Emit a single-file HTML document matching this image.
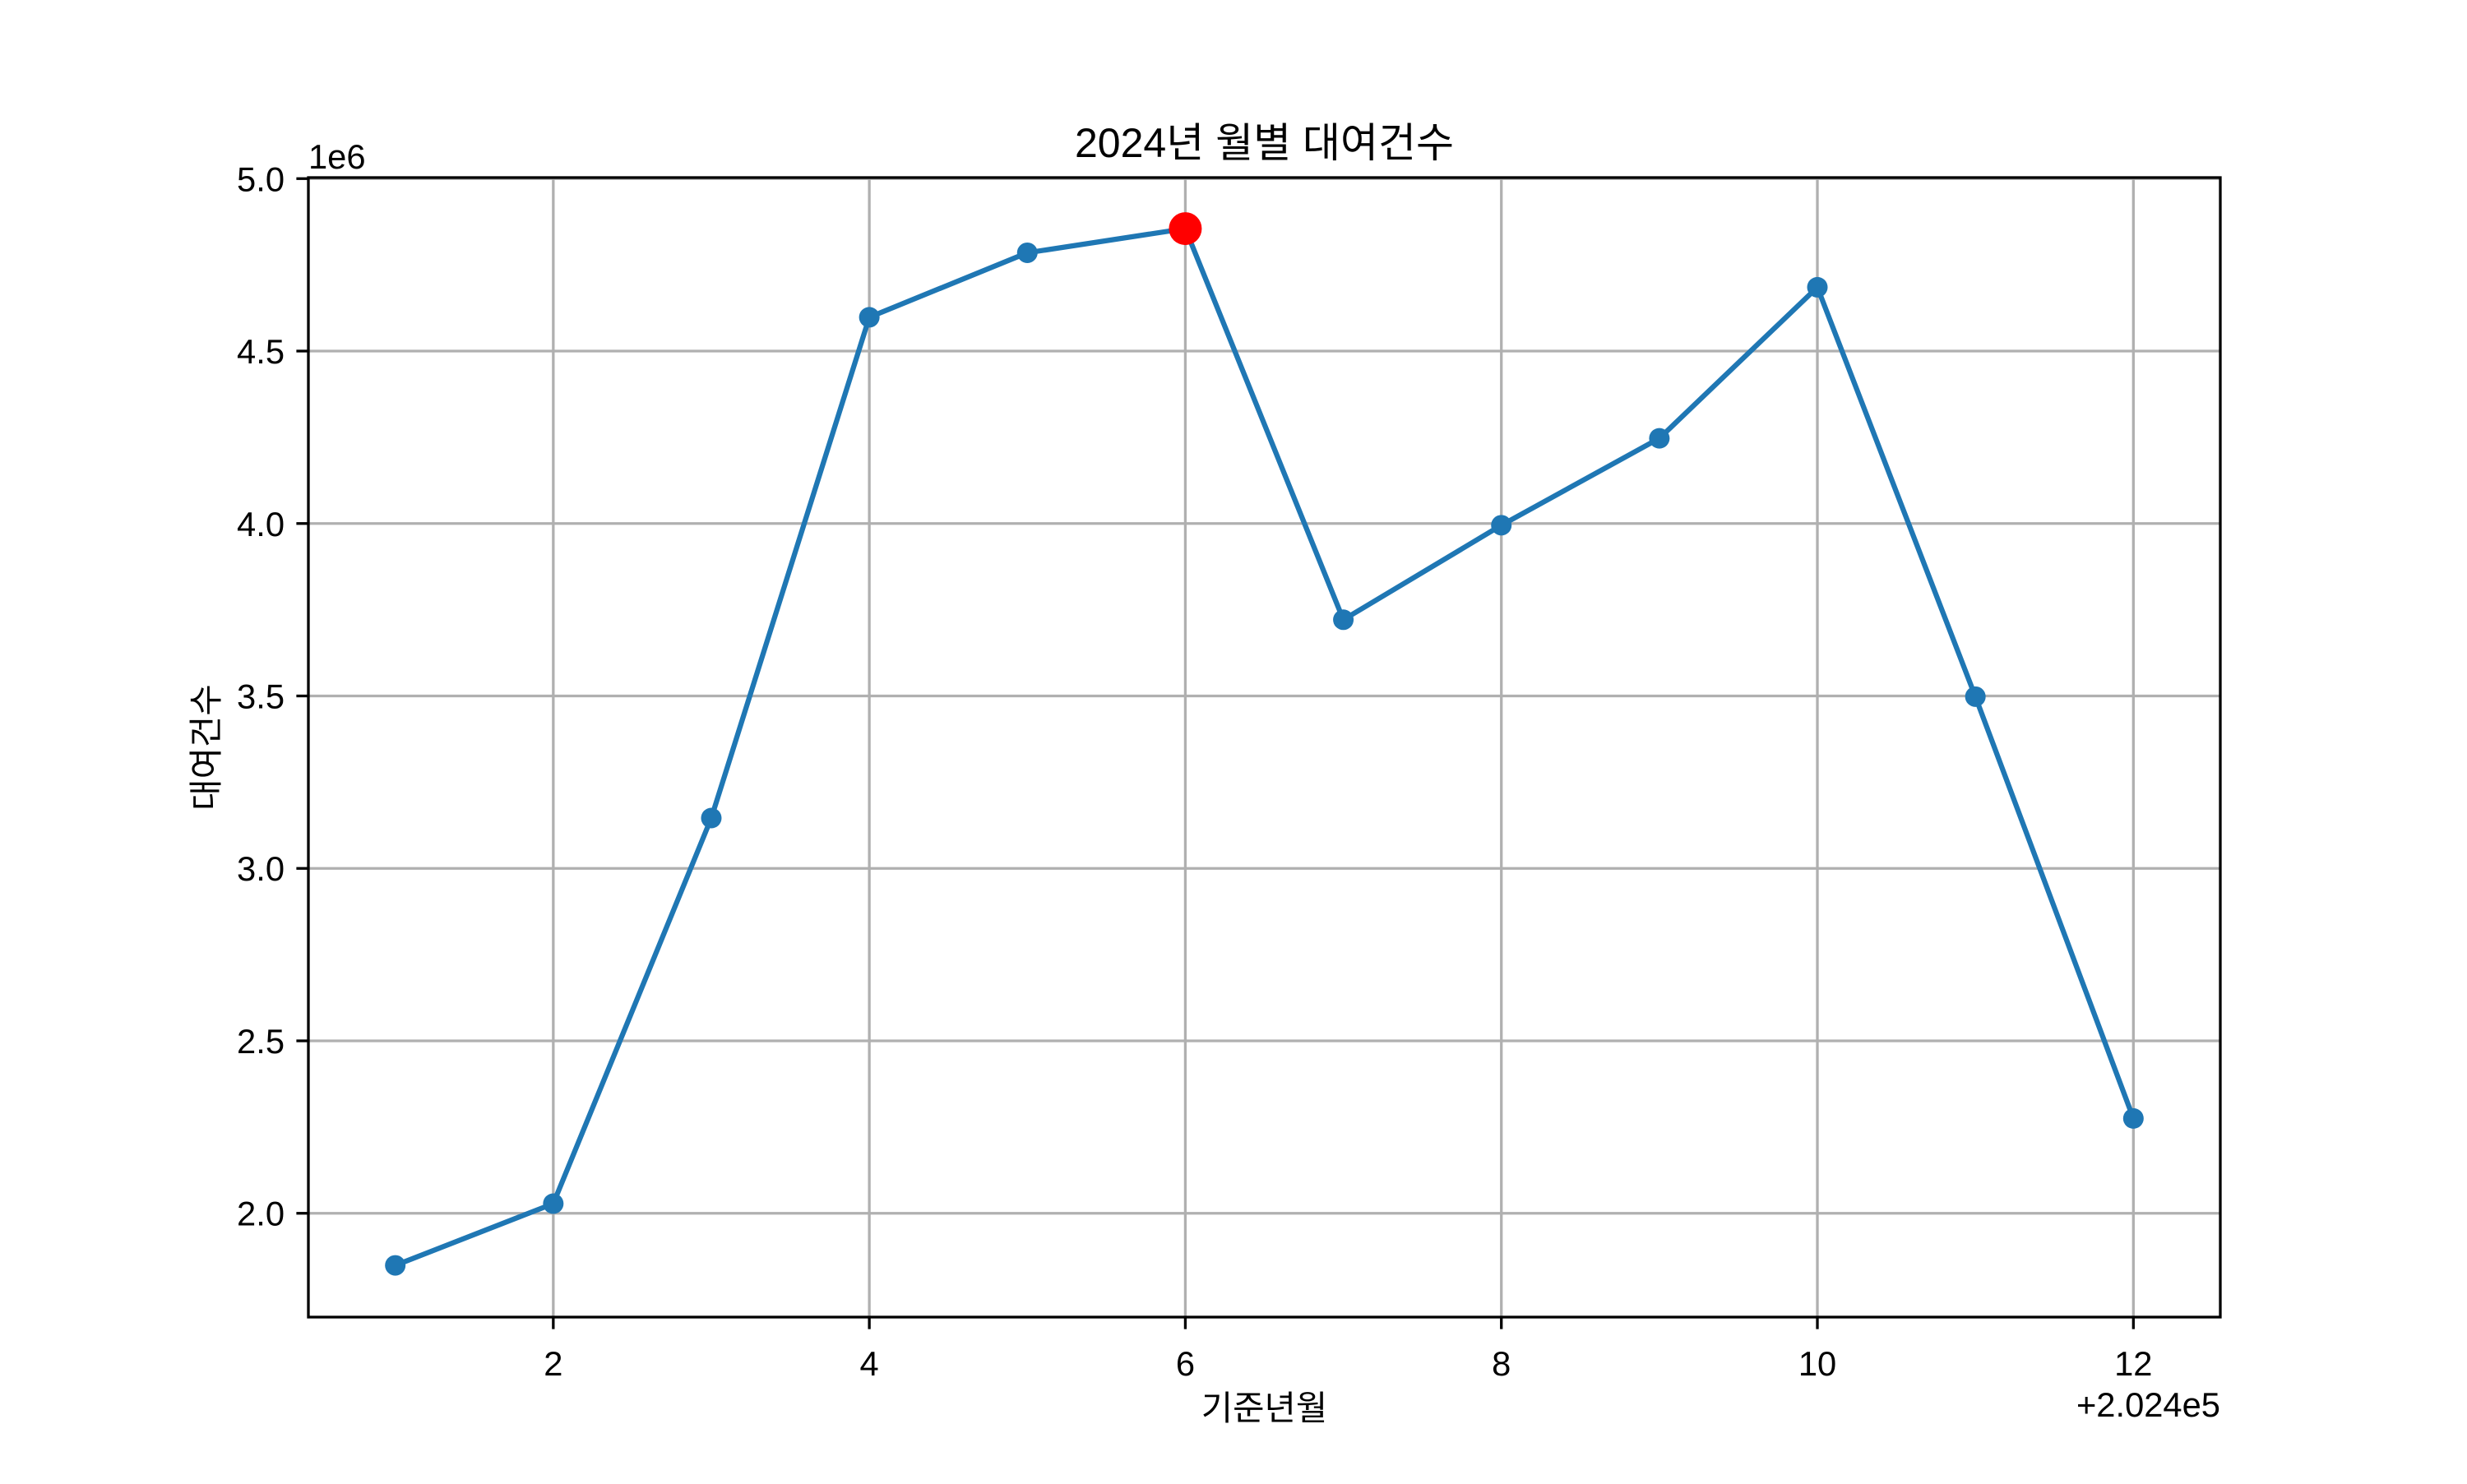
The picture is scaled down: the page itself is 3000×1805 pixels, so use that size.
<!DOCTYPE html>
<html><head><meta charset="utf-8"><style>
html,body{margin:0;padding:0;background:#fff}
svg text{font-family:"Liberation Sans","Noto Sans CJK KR","NanumGothic",sans-serif;fill:#000}
</style></head><body>
<svg id="chart" width="3000" height="1800" viewBox="0 0 3000 1800" xmlns="http://www.w3.org/2000/svg">
<rect width="3000" height="1800" fill="#fff"/>
<g id="grid"></g><g id="series"></g><g id="axes"></g>
</svg>
<script>
const months = [1,2,3,4,5,6,7,8,9,10,11,12];
const rentals = [1.849,2.028,3.146,4.598,4.785,4.855,3.721,3.995,4.247,4.685,3.498,2.275];
const xTickValues = [2,4,6,8,10,12];
const xTickLabels = ["2","4","6","8","10","12"];
const yTickValues = [2.0,2.5,3.0,3.5,4.0,4.5,5.0];
const yTickLabels = ["2.0","2.5","3.0","3.5","4.0","4.5","5.0"];
const highlightIndex = 5;

const L=375,R=2700,T=216,B=1602;
const xMin=0.45,xMax=12.55,yMin=1.699,yMax=5.003;
const xs=v=>L+(v-xMin)/(xMax-xMin)*(R-L);
const ys=v=>B-(v-yMin)/(yMax-yMin)*(B-T);
const NS="http://www.w3.org/2000/svg";
function mk(parent,tag,attrs,text){const e=document.createElementNS(NS,tag);for(const k in attrs)e.setAttribute(k,attrs[k]);if(text!==undefined)e.textContent=text;document.getElementById(parent).appendChild(e);return e;}

xTickValues.forEach((v,i)=>{
  const g=mk('grid','line',{x1:xs(v),x2:xs(v),y1:T,y2:B,stroke:'#b0b0b0','stroke-width':3.3});
  
  
  const t=mk('axes','line',{x1:xs(v),x2:xs(v),y1:B,y2:B+14.6,stroke:'#000','stroke-width':3.3});
  
  
  const l=mk('axes','text',{x:xs(v),y:1673,'font-size':41.7,'text-anchor':'middle'},xTickLabels[i]);
  
  
});
yTickValues.forEach((v,i)=>{
  const g=mk('grid','line',{x1:L,x2:R,y1:ys(v),y2:ys(v),stroke:'#b0b0b0','stroke-width':3.3});
  
  
  const t=mk('axes','line',{x1:L-14.6,x2:L,y1:ys(v),y2:ys(v),stroke:'#000','stroke-width':3.3});
  
  
  const l=mk('axes','text',{x:L-29,y:ys(v)+15,'font-size':41.7,'text-anchor':'end'},yTickLabels[i]);
  
  
});
const pts=months.map((m,i)=>xs(m)+','+ys(rentals[i])).join(' ');
const pl=mk('series','polyline',{points:pts,fill:'none',stroke:'#1f77b4','stroke-width':6.25,'stroke-linejoin':'round'});


months.forEach((m,i)=>{
  const c=mk('series','circle',{cx:xs(m),cy:ys(rentals[i]),r:12.5,fill:'#1f77b4'});
  
  
});
const h=mk('series','circle',{cx:xs(months[highlightIndex]),cy:ys(rentals[highlightIndex]),r:20,fill:'#ff0000'});



const fr=mk('axes','rect',{x:L,y:T,width:R-L,height:B-T,fill:'none',stroke:'#000','stroke-width':3.3});


const tt=mk('axes','text',{x:(L+R)/2,y:191,'font-size':50,'text-anchor':'middle'},'2024년 월별 대여건수');


const xl=mk('axes','text',{x:(L+R)/2,y:1727,'font-size':41.7,'text-anchor':'middle'},'기준년월');


const yl=mk('axes','text',{x:0,y:0,'font-size':41.7,'text-anchor':'middle',transform:'translate(265,'+((T+B)/2)+') rotate(-90)'},'대여건수');


const oy=mk('axes','text',{x:L,y:205,'font-size':41.7},'1e6');


const ox=mk('axes','text',{x:R,y:1723,'font-size':41.7,'text-anchor':'end'},'+2.024e5');


</script>
</body></html>
